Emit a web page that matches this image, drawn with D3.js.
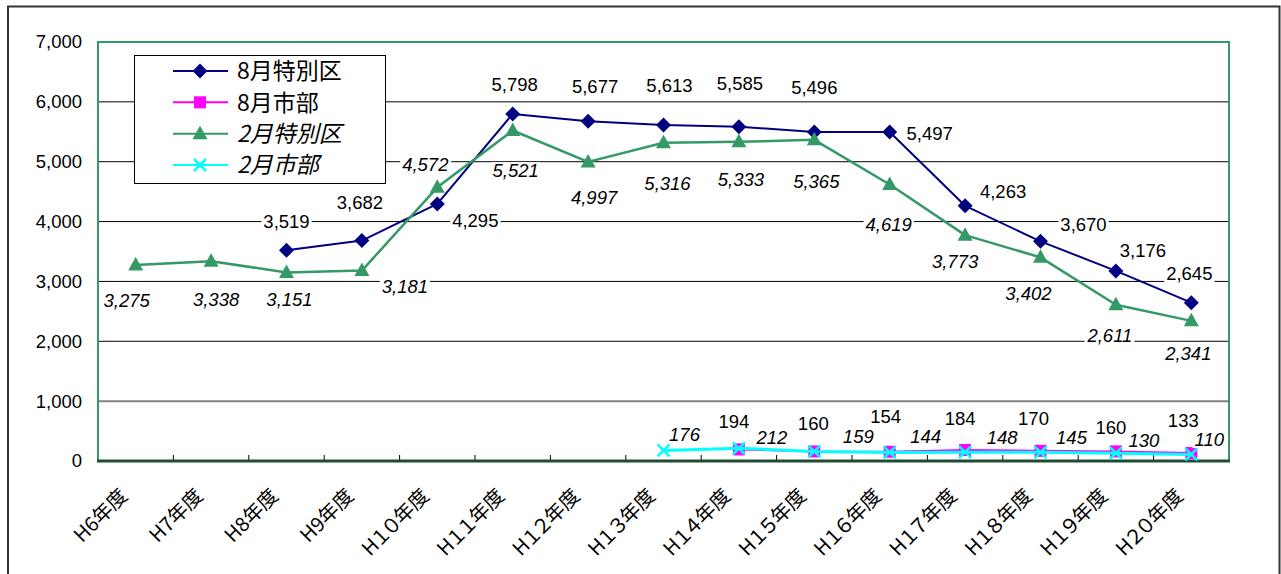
<!DOCTYPE html>
<html><head><meta charset="utf-8">
<script src="https://cdn.jsdelivr.net/npm/d3@7/dist/d3.min.js"></script>
<style>body{margin:0;background:#fff}svg{display:block}</style>
</head><body>
<svg id="chart" width="1281" height="574"></svg>
<script>
// ---- data ----
const categories = ["H6年度","H7年度","H8年度","H9年度","H１０年度","H１１年度","H１２年度","H１３年度","H１４年度","H１５年度","H１６年度","H１７年度","H１８年度","H１９年度","H２０年度"];
const yTicks = [0,1000,2000,3000,4000,5000,6000,7000];
const seriesNames = ["8月特別区","8月市部","2月特別区","2月市部"];
const augWards = [null,null,3519,3682,4295,5798,5677,5613,5585,5496,5497,4263,3670,3176,2645];
const augCities = [null,null,null,null,null,null,null,null,194,160,154,184,170,160,133];
const febWards = [3275,3338,3151,3181,4572,5521,4997,5316,5333,5365,4619,3773,3402,2611,2341];
const febCities = [null,null,null,null,null,null,null,176,212,159,144,148,145,130,110];
// label offsets (label centre relative to point)
const augWardsLab = [null,null,[0,-29],[-2,-38],[38,16],[2,-30],[7,-35],[6,-40],[1,-43],[0,-45],[40,1],[38,-14],[43,-17],[27,-21],[-2,-29]];
const augCitiesLab = [null,null,null,null,null,null,null,null,[-5,-28],[-1,-28],[-4,-35],[-5,-32],[-7,-32],[-5,-24],[-8,-33]];
const febWardsLab = [[-9,35],[5,38],[3,27],[43,16],[-12,-23],[3,40],[6,35],[4,41],[2,38],[2,41],[-1,40],[-10,26],[-12,36],[-6,31],[-3,32]];
const febCitiesLab = [null,null,null,null,null,null,null,[21,-16],[33,-11],[44,-15],[36,-16],[37,-15],[31,-15],[28,-13],[18,-15]];

const colors = {navy:"#000080", magenta:"#FF00FF", green:"#339966", cyan:"#00FFFF"};

const svg = d3.select("#chart");
const L = 98, R = 1229, T = 42, B = 461;
const x = d3.scaleBand().domain(categories).range([L, R]).paddingInner(0).paddingOuter(0);
const cx = c => x(c) + x.bandwidth()/2;
const y = d3.scaleLinear().domain([0,7000]).range([B, T]);
const fmt = d3.format(",");
const numFont = "'Liberation Sans', Arial, sans-serif";
const jpFont = "'Noto Sans CJK JP', sans-serif";

// outer border
svg.append("rect").attr("x",8).attr("y",6.5).attr("width",1271.5).attr("height",620)
  .attr("fill","none").attr("stroke","#333").attr("stroke-width",2);

// gridlines
const grid = svg.append("g");
yTicks.filter(t => t > 0 && t < 7000).forEach(t => {
  grid.append("line").attr("x1",L).attr("x2",R).attr("y1",y(t)).attr("y2",y(t))
    .attr("stroke", t === 1000 ? "#808080" : "#000")
    .attr("stroke-width", t === 1000 ? 2 : 1);
});

// y axis labels
const yAxis = d3.axisLeft(y).tickValues(yTicks).tickFormat(fmt).tickSize(0).tickPadding(16);
const ya = svg.append("g").attr("transform",`translate(${L},0)`).call(yAxis);
ya.select(".domain").remove();
ya.selectAll("text").attr("font-family",numFont).attr("font-size",18.5).attr("fill","#000");

// plot frame
svg.append("path").attr("d",`M${L},${B}V${T}H${R}V${B}`).attr("fill","none")
  .attr("stroke",colors.green).attr("stroke-width",2);

// x axis
const xAxis = d3.axisBottom(x).tickSize(0).tickFormat("");
svg.append("g").attr("transform",`translate(0,${B})`).call(xAxis).select(".domain").remove();
const tickPos = categories.map(c => x(c)).concat([R]);
svg.append("g").selectAll("line").data(tickPos.slice(1,-1)).join("line")
  .attr("x1",d=>d).attr("x2",d=>d).attr("y1",B).attr("y2",B-6)
  .attr("stroke","#000").attr("stroke-width",1);
svg.append("line").attr("x1",L-1).attr("x2",R+1).attr("y1",B).attr("y2",B)
  .attr("stroke","#1f4d33").attr("stroke-width",3);

svg.append("g").selectAll("text").data(categories).join("text")
  .attr("transform", c => `translate(${cx(c)-7},${B+36}) rotate(-45)`)
  .attr("text-anchor","end")
  .attr("font-family",jpFont).attr("font-size",20)
  .style("font-feature-settings","'palt'")
  .attr("fill","#000").text(c => c);

// series
function drawSeries(vals, color, width) {
  const pts = vals.map((v,i) => v == null ? null : {c:categories[i], v});
  const line = d3.line().defined(d => d != null).x(d => cx(d.c)).y(d => y(d.v));
  svg.append("path").datum(pts).attr("d", line).attr("fill","none")
    .attr("stroke",color).attr("stroke-width",width).attr("stroke-linejoin","round");
  return pts.filter(d => d != null);
}
function marker(g, type, px, py, color) {
  if (type === "diamond") {
    g.append("path").attr("d",`M${px},${py-7.5}L${px+7.5},${py}L${px},${py+7.5}L${px-7.5},${py}Z`).attr("fill",color);
  } else if (type === "square") {
    g.append("rect").attr("x",px-6).attr("y",py-6).attr("width",12).attr("height",12).attr("fill",color);
  } else if (type === "triangle") {
    g.append("path").attr("d",`M${px},${py-8}L${px+7.5},${py+5.5}L${px-7.5},${py+5.5}Z`).attr("fill",color);
  } else {
    g.append("path").attr("d",`M${px-6},${py-6}L${px+6},${py+6}M${px+6},${py-6}L${px-6},${py+6}`)
      .attr("stroke",color).attr("stroke-width",2.5);
  }
}
const defs = [
  {vals:augWards, lab:augWardsLab, color:colors.navy, type:"diamond", italic:false, w:2},
  {vals:augCities, lab:augCitiesLab, color:colors.magenta, type:"square", italic:false, w:2},
  {vals:febWards, lab:febWardsLab, color:colors.green, type:"triangle", italic:true, w:2.5},
  {vals:febCities, lab:febCitiesLab, color:colors.cyan, type:"x", italic:true, w:3}
];
defs.forEach(s => {
  const pts = drawSeries(s.vals, s.color, s.w);
  const g = svg.append("g");
  pts.forEach(p => marker(g, s.type, cx(p.c), y(p.v), s.color));
});

// data labels (on top, white background)
const labG = svg.append("g");
defs.forEach(s => {
  s.vals.forEach((v,i) => {
    if (v == null) return;
    const off = s.lab[i];
    const px = cx(categories[i]) + off[0], py = y(v) + off[1];
    const t = labG.append("text").attr("x",px).attr("y",py).attr("dy","0.36em")
      .attr("text-anchor","middle").attr("font-family",numFont).attr("font-size",18.5)
      .attr("font-style", s.italic ? "italic" : "normal").attr("fill","#000").text(fmt(v));
    const bb = t.node().getBBox();
    labG.insert("rect", () => t.node()).attr("x",bb.x-2).attr("y",bb.y+2).attr("width",bb.width+4).attr("height",bb.height-4).attr("fill","#fff");
  });
});

// legend
const lg = svg.append("g");
lg.append("rect").attr("x",134.5).attr("y",55.5).attr("width",251).attr("height",128)
  .attr("fill","#fff").attr("stroke","#000").attr("stroke-width",1);
const rowY = d3.scalePoint().domain(seriesNames).range([71,165]);
seriesNames.forEach((n,i) => {
  const yy = rowY(n);
  lg.append("line").attr("x1",173).attr("x2",228).attr("y1",yy).attr("y2",yy)
    .attr("stroke",defs[i].color).attr("stroke-width",2);
  marker(lg, defs[i].type, 200, yy, defs[i].color);
  lg.append("text").attr("x",237).attr("y",yy).attr("dy","0.36em")
    .attr("font-family",jpFont).attr("font-size",23)
    .attr("font-style", defs[i].italic ? "italic" : "normal")
    .attr("fill","#000").text(n);
});
</script>
</body></html>
